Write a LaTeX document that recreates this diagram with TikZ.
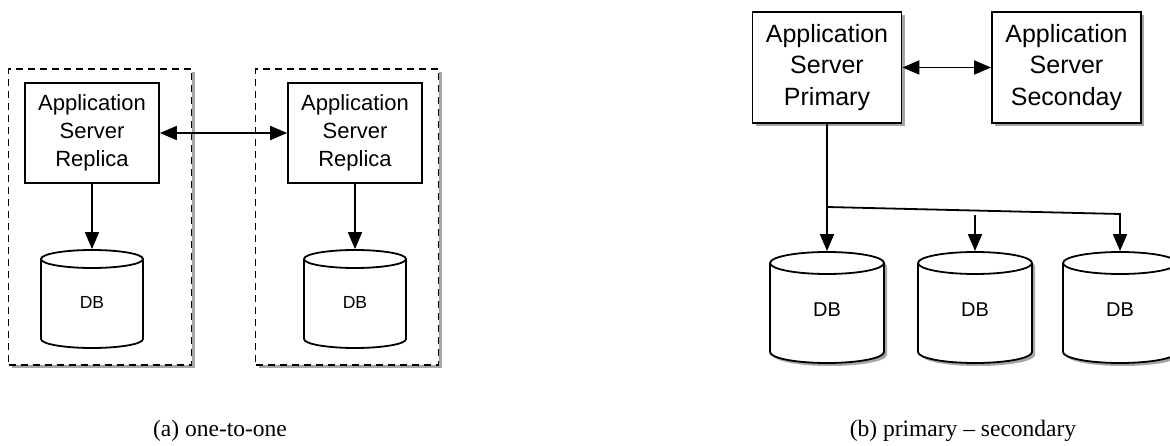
\documentclass[tikz,border=0pt]{standalone}
\usepackage{fontspec}
\setmainfont{Liberation Serif}
\newfontfamily\arialfont{Liberation Sans}
\usetikzlibrary{arrows.meta,shadows,calc}
\newcommand{\cylpath}[5]{(#1-#4,#2-#5) -- (#1-#4,#3+#5) arc[start angle=180,end angle=360,x radius=#4,y radius=#5] -- (#1+#4,#2-#5) arc[start angle=0,end angle=180,x radius=#4,y radius=#5] -- cycle}
\newcommand{\cylfront}[5]{(#1-#4,#2-#5) arc[start angle=180,end angle=360,x radius=#4,y radius=#5]}
\begin{document}
\begin{tikzpicture}[x=1pt,y=1pt,
  line width=1.8pt,
  arr/.style={-{Triangle[length=17pt,width=14pt]}},
  darr/.style={{Triangle[length=17pt,width=14pt]}-{Triangle[length=17pt,width=14pt]}},
  shd/.style={drop shadow={shadow xshift=3pt,shadow yshift=-3pt,opacity=0.35,fill=black}},
  dashbox/.style={draw,dash pattern=on 7pt off 5pt,line width=1.3pt,fill=white,shd,minimum width=183pt,minimum height=296pt,inner sep=0pt},
  appL/.style={draw,fill=white,minimum width=134pt,minimum height=100pt,align=center,inner sep=0pt,font=\arialfont\fontsize{22}{28}\selectfont},
  appR/.style={draw,fill=white,shd,minimum width=149pt,minimum height=111pt,align=center,inner sep=0pt,font=\arialfont\fontsize{25}{31.5}\selectfont},
  dbL/.style={minimum width=102pt,minimum height=98pt,inner sep=0pt},
  dbR/.style={minimum width=114pt,minimum height=111pt,inner sep=0pt},
  captxt/.style={anchor=base,font=\fontsize{23.5}{28}\selectfont}
]
\useasboundingbox (0,0) rectangle (1170,445);

% ---------- (a) one-to-one ----------
\node[dashbox] (gL) at (100,228) {};
\node[dashbox] (gR) at (347,228) {};
\node[appL] (aL) at (92,312) {Application\\Server\\Replica};
\node[appL] (aR) at (355,312) {Application\\Server\\Replica};

\filldraw[fill=white] \cylpath{92}{195}{97}{51}{9};
\draw \cylfront{92}{195}{97}{51}{9};
\node[dbL] (dL) at (92,146) {};
\node[font=\arialfont\fontsize{17.5}{20}\selectfont] (tL) at (92,143) {DB};

\filldraw[fill=white] \cylpath{355}{195}{97}{51}{9};
\draw \cylfront{355}{195}{97}{51}{9};
\node[dbL] (dR) at (355,146) {};
\node[font=\arialfont\fontsize{17.5}{20}\selectfont] (tR) at (355,143) {DB};

\draw[darr] (aL.east) -- (aR.west);
\draw[arr] (aL.south) -- (dL.north);
\draw[arr] (aR.south) -- (dR.north);

\node[captxt] (capa) at (220,9) {(a) one-to-one};

% ---------- (b) primary - secondary ----------
\node[appR] (prim) at (827,377.5) {Application\\Server\\Primary};
\node[appR] (sec) at (1066.5,377.5) {Application\\Server\\Seconday};

\foreach \cx/\nm in {827/d1,975/d2,1120/d3}{
  \fill[black,opacity=0.35] \cylpath{\cx+3}{190}{79}{57}{11};
  \filldraw[fill=white] \cylpath{\cx}{193}{82}{57}{11};
  \draw \cylfront{\cx}{193}{82}{57}{11};
  \node[dbR] (\nm) at (\cx,137.5) {};
  \node[font=\arialfont\fontsize{20}{24}\selectfont] (t\nm) at (\cx,135) {DB};
}

\coordinate (j1) at (827,238);
\coordinate (j3) at (1120,231);
\coordinate (m2) at (975,230);

\draw[darr] (prim.east) -- (sec.west);
\draw[arr] (prim.south) -- (d1.north);
\draw[arr] (j1) -- (j3) -- (d3.north);
\draw[arr] (m2) -- (d2.north);

\node[captxt] (capb) at (963,9) {(b) primary -- secondary};
\end{tikzpicture}
\end{document}
